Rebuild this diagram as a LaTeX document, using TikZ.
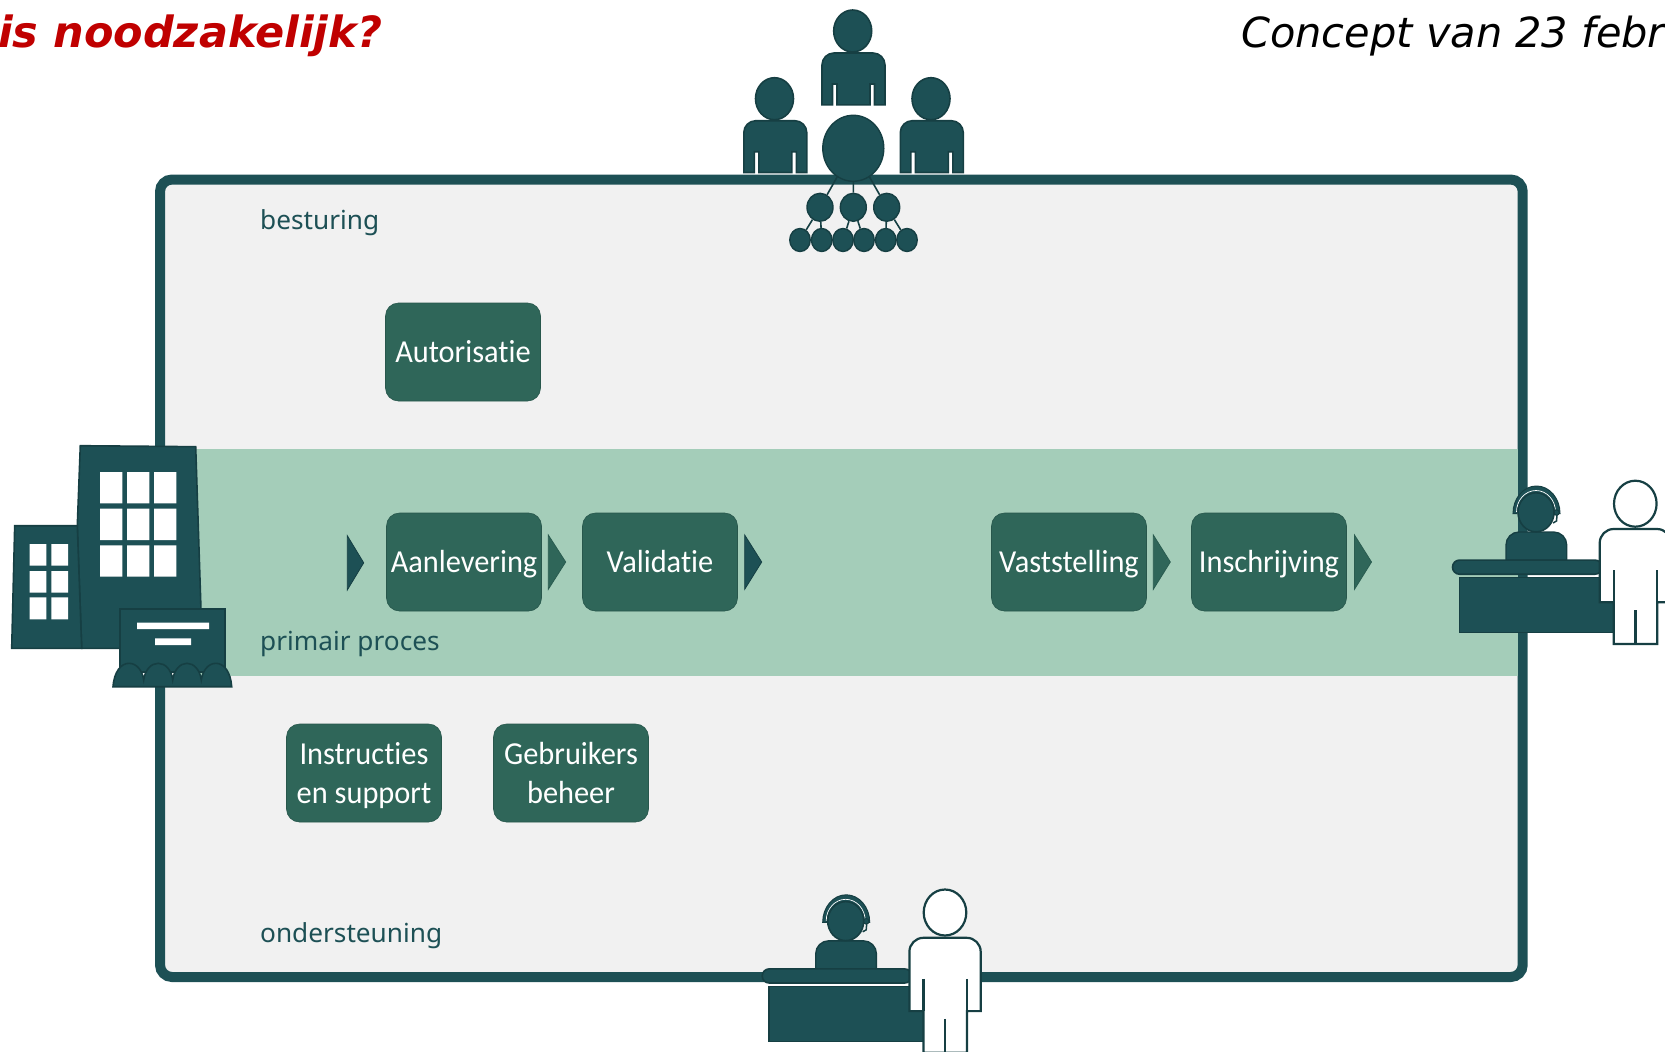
\documentclass[tikz,border=0pt]{standalone}
\usepackage{fontspec}
\usetikzlibrary{shapes.geometric}
\setmainfont{Carlito}[Ligatures=NoCommon,FakeStretch=0.95]
\newfontfamily\verd{DejaVu Sans}
\newfontfamily\labfont{Noto Sans}
\definecolor{dk}{HTML}{1D5055}
\definecolor{dkl}{HTML}{163F43}
\definecolor{gr}{HTML}{2F6659}
\definecolor{band}{HTML}{A4CDB9}
\definecolor{pale}{HTML}{F1F1F1}
\definecolor{titred}{HTML}{C00000}
\newcommand{\bstrut}{\rule[-8.9pt]{0pt}{39pt}}
\tikzset{
 x=1pt,y=-1pt,
 procbox/.style={draw=gr!85!black,line width=.6pt,fill=gr,rounded corners=13pt,minimum width=155pt,minimum height=98pt,text=white,font=\fontsize{32}{39}\selectfont,align=center,inner sep=0pt},
 lab/.style={text=dk,font=\labfont\fontsize{26.2}{32}\selectfont,anchor=west,inner sep=0pt},
 chevd/.style={fill=dk,draw=dkl,line width=.8pt,line join=miter},
 chevg/.style={fill=gr,draw=gr!90!black,line width=.8pt,line join=miter},
 icon/.style={fill=dk,draw=dkl,line width=1.6pt},
 wicon/.style={fill=white,draw=dkl,line width=2.2pt},
 orgc/.style={ellipse,fill=dk,draw=dkl,line width=1.4pt,inner sep=0pt},
 big/.style={orgc,minimum width=61pt,minimum height=66pt},
 mid/.style={orgc,minimum width=26pt,minimum height=28pt},
 small/.style={orgc,minimum width=20.5pt,minimum height=23pt},
 orgl/.style={draw=dkl,line width=1.6pt},
 win/.style={fill=white},
}
% person icon: origin is the centre of the head
\newcommand{\personicon}[2]{%
\begin{scope}[shift={(#1,#2)}]
\begin{scope}[xshift=.8pt]
\draw[icon] (-31.5,73.8) -- (-31.5,34) arc[start angle=180,end angle=270,radius=12] -- (19.5,22) arc[start angle=270,end angle=360,radius=12] -- (31.5,73.8) -- (21,73.8) -- (21,53) -- (16.5,53) -- (16.5,73.8) -- (-16.5,73.8) -- (-16.5,53) -- (-21,53) -- (-21,73.8) -- cycle;
\end{scope}
\draw[icon] (0,0) ellipse[x radius=19,y radius=21];
\end{scope}}
% reception desk with white visitor
\newcommand{\receptionicon}[2]{%
\begin{scope}[shift={(#1,#2)}]
\draw[icon,line width=1.4pt] (1506,560) -- (1506,545) arc[start angle=180,end angle=270,radius=13] -- (1553.7,532) arc[start angle=270,end angle=360,radius=13] -- (1566.7,560) -- cycle;
\draw[icon,line width=1pt] (1513,513.5) arc[start angle=180,end angle=360,x radius=23.5,y radius=27.5] -- (1555,513.5) arc[start angle=360,end angle=180,x radius=19,y radius=20] -- cycle;
\draw[white,line width=.7pt] (1516.5,512) arc[start angle=180,end angle=360,x radius=19.5,y radius=21.5];
\draw[icon,line width=1pt] (1556.5,512.5) circle[radius=2.8];
\draw[dkl,line width=1.5pt] (1557,515) -- (1556.5,521) -- (1553,523);
\draw[icon] (1536,512.3) ellipse[x radius=18,y radius=19.5];
\draw[icon,rounded corners=7pt] (1452.5,560.1) rectangle (1602,574.2);
\draw[icon] (1459.5,577.5) rectangle (1620,632.5);
\draw[wicon] (1635.3,503.7) ellipse[x radius=21.3,y radius=23];
\draw[wicon] (1613.7,602.3) -- (1599.7,602.3) -- (1599.7,543) arc[start angle=180,end angle=270,radius=14] -- (1657,529) arc[start angle=270,end angle=360,radius=14] -- (1671,602.3) -- (1657.3,602.3) -- (1657.3,644) -- (1613.7,644) -- cycle;
\draw[dkl,line width=2.2pt] (1613.7,570) -- (1613.7,602.3) (1657.3,570) -- (1657.3,602.3) (1635.5,610) -- (1635.5,644);
\end{scope}}
\begin{document}
\begin{tikzpicture}
\useasboundingbox (0,0) rectangle (1665,1052);
\node[text=titred,font=\verd\bfseries\itshape\fontsize{43}{48}\selectfont,anchor=west,inner sep=0pt] (title) at (-2,36) {is noodzakelijk?};
\node[font=\verd\itshape\fontsize{41.5}{48}\selectfont,anchor=west,inner sep=0pt] (concept) at (1241,36) {Concept van 23 febr};
% frame and band
\draw[draw=dk,fill=pale,line width=10pt,rounded corners=12pt] (160,179.5) rectangle (1522.7,977);
\fill[band] (190,449) rectangle (1518.3,676);
\node[lab] (l1) at (260,223) {besturing};
\node[lab] (l2) at (260,644) {primair proces};
\node[lab] (l3) at (260,936) {ondersteuning};
% process boxes
\node[procbox] (a) at (463,352) {\bstrut Autorisatie};
\node[procbox] (b) at (464,562) {\bstrut Aanlevering};
\node[procbox] (c) at (660,562) {\bstrut Validatie};
\node[procbox] (d) at (1069,562) {\bstrut Vaststelling};
\node[procbox] (e) at (1269,562) {\bstrut Inschrijving};
\node[procbox] (f) at (364,773) {\bstrut Instructies\\\bstrut en support};
\node[procbox] (g) at (571,773) {\bstrut Gebruikers\\\bstrut beheer};
% chevrons
\draw[chevd] (347.3,535.7) -- (363.7,562.8) -- (347.3,590) -- cycle;
\draw[chevg] (548.3,535) -- (565.7,562) -- (548.3,589.3) -- cycle;
\draw[chevd] (744.7,535) -- (761.7,562) -- (744.7,589.3) -- cycle;
\draw[chevg] (1153.3,535) -- (1170.3,562) -- (1153.3,589.3) -- cycle;
\draw[chevg] (1354.5,535) -- (1371.5,562) -- (1354.5,589.3) -- cycle;
% management icon
\personicon{852.7}{31}
\personicon{774.5}{98.7}
\personicon{931}{98.7}
\node[big] (o) at (853.3,148.3) {};
\node[mid] (m1) at (820,207.3) {};
\node[mid] (m2) at (853.3,207.3) {};
\node[mid] (m3) at (886.7,207.3) {};
\node[small] (s1) at (800,240) {};
\node[small] (s2) at (821.7,240) {};
\node[small] (s3) at (843,240) {};
\node[small] (s4) at (864,240) {};
\node[small] (s5) at (885.7,240) {};
\node[small] (s6) at (907,240) {};
\draw[orgl] (o) -- (m1) (o) -- (m2) (o) -- (m3);
\draw[orgl] (m1) -- (s1) (m1) -- (s2) (m2) -- (s3) (m2) -- (s4) (m3) -- (s5) (m3) -- (s6);
% buildings
\draw[icon] (80.3,445.7) -- (195.7,446.7) -- (201,610) -- (201,648.3) -- (81.7,648.3) -- (77.3,525.7) -- cycle;
\draw[icon] (14.7,525.7) -- (77.3,525.7) -- (81.7,648.3) -- (11.7,648.3) -- cycle;
\fill[win] (100,472) rectangle (122.3,503.3) (127,472) rectangle (149.3,503.3) (154,472) rectangle (176.3,503.3)
 (100,508.7) rectangle (122.3,540) (127,508.7) rectangle (149.3,540) (154,508.7) rectangle (176.3,540)
 (100,545.3) rectangle (122.3,576.7) (127,545.3) rectangle (149.3,576.7) (154,545.3) rectangle (176.3,576.7);
\fill[win] (29.7,544) rectangle (46.3,565.7) (51.3,544) rectangle (68,565.7)
 (29.7,571) rectangle (46.3,592.7) (51.3,571) rectangle (68,592.7)
 (29.7,597.3) rectangle (46.3,619.3) (51.3,597.3) rectangle (68,619.3);
\draw[icon] (120,609) rectangle (224.7,672);
\fill[win] (137,622.7) rectangle (209,629) (155,638.3) rectangle (191,645);
\draw[icon] (113,686.7) .. controls (114,672) and (121,663.3) .. (129,663.3) .. controls (137,663.3) and (142.5,671) .. (143.7,680)
 .. controls (145,670) and (151,663.3) .. (158.2,663.3) .. controls (165.5,663.3) and (171.5,670) .. (172.7,680)
 .. controls (174,670) and (180,663.3) .. (187,663.3) .. controls (194,663.3) and (200,670) .. (201.3,680)
 .. controls (202.5,671) and (208,663.3) .. (216,663.3) .. controls (224,663.3) and (230.7,672) .. (231.7,686.7) -- cycle;
% reception desks
\receptionicon{0}{0}
\receptionicon{-690.3}{408.8}
\end{tikzpicture}
\end{document}
